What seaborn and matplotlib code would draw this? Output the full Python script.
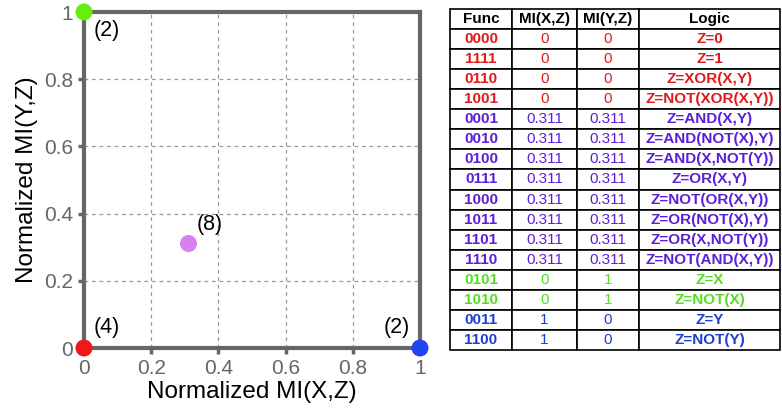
import matplotlib
matplotlib.use("Agg")
import matplotlib.pyplot as plt
import seaborn as sns
import pandas as pd

# points in the MI plane and how many functions sit on each
mi_x = [0, 1, 0, 0.311]
mi_y = [0, 0, 1, 0.311]
counts = ["(4)", "(2)", "(2)", "(8)"]
point_colors = ["#f01818", "#1f45f0", "#66ee11", "#d880f0"]

# table contents
funcs = ["0000", "1111", "0110", "1001", "0001", "0010", "0100", "0111",
         "1000", "1011", "1101", "1110", "0101", "1010", "0011", "1100"]
mi_xz = ["0", "0", "0", "0", "0.311", "0.311", "0.311", "0.311",
         "0.311", "0.311", "0.311", "0.311", "0", "0", "1", "1"]
mi_yz = ["0", "0", "0", "0", "0.311", "0.311", "0.311", "0.311",
         "0.311", "0.311", "0.311", "0.311", "1", "1", "0", "0"]
logic = ["Z=0", "Z=1", "Z=XOR(X,Y)", "Z=NOT(XOR(X,Y))", "Z=AND(X,Y)",
         "Z=AND(NOT(X),Y)", "Z=AND(X,NOT(Y))", "Z=OR(X,Y)", "Z=NOT(OR(X,Y))",
         "Z=OR(NOT(X),Y)", "Z=OR(X,NOT(Y))", "Z=NOT(AND(X,Y))", "Z=X",
         "Z=NOT(X)", "Z=Y", "Z=NOT(Y)"]
row_colors = ["#e01a1a"] * 4 + ["#5b1fd8"] * 8 + ["#55dd22"] * 2 + ["#1f3fd0"] * 2
headers = ["Func", "MI(X,Z)", "MI(Y,Z)", "Logic"]

sns.set_theme(style="white")
plt.rcParams['font.family'] = ['Liberation Sans', 'DejaVu Sans']

fig = plt.figure(figsize=(7.82, 4.2), dpi=100)
ax = fig.add_axes([84 / 782, 1 - 348 / 420, 336 / 782, 336 / 420])

df = pd.DataFrame({"x": mi_x, "y": mi_y, "c": range(4)})
sns.scatterplot(data=df, x="x", y="y", hue="c", palette=point_colors, s=150,
                edgecolor="none", legend=False, ax=ax, clip_on=False, zorder=5)

ax.set_xlim(0, 1)
ax.set_ylim(0, 1)
ticks = [0, 0.2, 0.4, 0.6, 0.8, 1]
ax.set_xticks(ticks)
ax.set_yticks(ticks)
ax.set_xticklabels(["0", "0.2", "0.4", "0.6", "0.8", "1"])
ax.set_yticklabels(["0", "0.2", "0.4", "0.6", "0.8", "1"])
ax.tick_params(direction="out", length=4, width=2.5, color="#666666",
               labelcolor="#666666", labelsize=15, pad=4, bottom=True, left=True)
for sp in ax.spines.values():
    sp.set_color("#666666")
    sp.set_linewidth(3)
ax.grid(True, linestyle=(0, (3, 3)), color="#999999", linewidth=0.9)
ax.set_xlabel("Normalized MI(X,Z)", fontsize=17.5, color="black", labelpad=2)
ax.set_ylabel("Normalized MI(Y,Z)", fontsize=17.5, color="black", labelpad=4)

offsets = [(7, 7), (-7, 7), (7, -6), (6, 6)]
aligns = [("left", "bottom"), ("right", "bottom"), ("left", "top"), ("left", "bottom")]
for xv, yv, lab, off, al in zip(mi_x, mi_y, counts, offsets, aligns):
    ax.annotate(lab, (xv, yv), xytext=off, textcoords="offset points",
                ha=al[0], va=al[1], fontsize=15.5, color="black")

# table on the right
tax = fig.add_axes([450 / 782, 1 - 350 / 420, 330 / 782, 341 / 420])
tax.axis("off")
cells = [list(r) for r in zip(funcs, mi_xz, mi_yz, logic)]
widths = [62, 65, 62, 141]
tot = sum(widths)
tbl = tax.table(cellText=cells, colLabels=headers, cellLoc="center",
                colWidths=[w / tot for w in widths], bbox=[0, 0, 1, 1])
tbl.auto_set_font_size(False)
for (r, c), cell in tbl.get_celld().items():
    cell.set_edgecolor("black")
    cell.set_linewidth(1.2)
    txt = cell.get_text()
    txt.set_fontsize(11)
    if r == 0:
        txt.set_fontweight("bold")
        txt.set_color("black")
    else:
        txt.set_color(row_colors[r - 1])
        if c in (0, 3):
            txt.set_fontweight("bold")

fig.savefig("out.png", dpi=100)
